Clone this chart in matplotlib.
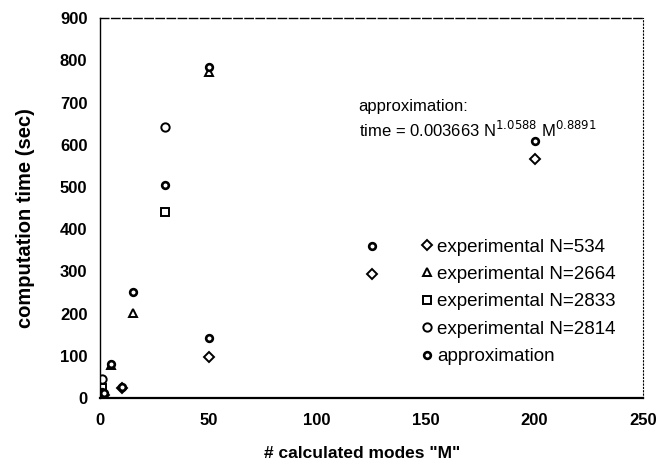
import matplotlib
matplotlib.use("Agg")
import matplotlib.pyplot as plt

plt.rcParams['font.family'] = ['Liberation Sans', 'DejaVu Sans']

# experimental N=534 (diamonds)
m_534 = [1, 2, 10, 50, 125, 200]
t_534 = [12, 7, 24, 97, 294, 566]
# experimental N=2664 (triangles)
m_2664 = [5, 15, 50]
t_2664 = [78, 201, 772]
# experimental N=2833 (squares)
m_2833 = [1, 30]
t_2833 = [24, 440]
# experimental N=2814 (circles)
m_2814 = [1, 30]
t_2814 = [46, 642]
# approximation
m_apx = [1, 2, 5, 10, 15, 30, 50, 50, 125, 200]
t_apx = [14, 12, 80, 26, 251, 505, 785, 142, 360, 609]

fig = plt.figure(figsize=(6.56, 4.65), dpi=100)
ax = fig.add_axes([0.1524, 0.144, 0.828, 0.817])

ms = 6
ax.plot(m_534, t_534, linestyle='none', marker='D', markersize=5, mfc='white', mec='black', mew=1.4, label='experimental N=534')
ax.plot(m_2664, t_2664, linestyle='none', marker='^', markersize=ms, mfc='white', mec='black', mew=1.4, label='experimental N=2664')
ax.plot(m_2833, t_2833, linestyle='none', marker='s', markersize=ms, mfc='white', mec='black', mew=1.4, label='experimental N=2833')
ax.plot(m_2814, t_2814, linestyle='none', marker='o', markersize=ms, mfc='white', mec='black', mew=1.4, label='experimental N=2814')
ax.plot(m_apx, t_apx, linestyle='none', marker='o', markersize=4.8, mfc='white', mec='black', mew=1.9, label='approximation')

ax.set_xlim(0, 250)
ax.set_ylim(0, 900)
ax.set_xticks([0, 50, 100, 150, 200, 250])
ax.set_yticks(range(0, 901, 100))
ax.tick_params(length=0, labelsize=12)
ax.tick_params(axis='y', pad=9)
ax.tick_params(axis='x', pad=11)
for lab in ax.get_xticklabels() + ax.get_yticklabels():
    lab.set_fontweight('bold')

ax.spines['bottom'].set_linewidth(1.6)
ax.spines['left'].set_linewidth(1.0)
ax.spines['left'].set_linestyle((0, (8, 1, 1, 1)))
ax.spines['top'].set_linestyle((0, (6, 2)))
ax.spines['top'].set_linewidth(1.0)
ax.spines['right'].set_linestyle((0, (1, 2)))
ax.spines['right'].set_linewidth(0.8)

ax.set_xlabel('# calculated modes "M"', fontweight='bold', fontsize=12.5)
ax.set_ylabel('computation time (sec)', fontweight='bold', fontsize=14.5)
ax.xaxis.set_label_coords(0.4825, -0.126)
ax.yaxis.set_label_coords(-0.12, 0.474)

ax.text(119, 690, 'approximation:', fontsize=12, va='center')
ax.text(119, 636, r'time = 0.003663 N$^{1.0588}$ M$^{0.8891}$', fontsize=12, va='center')

leg = ax.legend(loc='upper left', bbox_to_anchor=(0.585, 0.42), frameon=False,
                fontsize=13.5, handletextpad=0.05, handlelength=1.0,
                labelspacing=0.55, borderaxespad=0.0, borderpad=0.0)

fig.savefig('out.png', dpi=100)
